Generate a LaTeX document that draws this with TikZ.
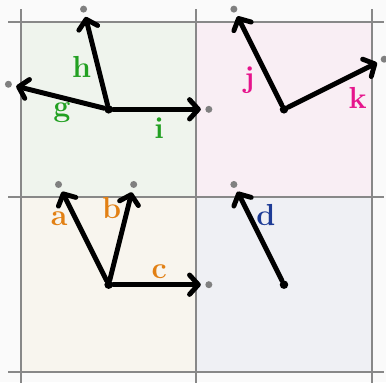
\documentclass[tikz,border=0pt]{standalone}
\usetikzlibrary{arrows.meta}
\definecolor{bgc}{RGB}{250,250,250}
\definecolor{qtl}{RGB}{239,244,237}
\definecolor{qtr}{RGB}{249,238,244}
\definecolor{qbl}{RGB}{248,245,238}
\definecolor{qbr}{RGB}{239,240,244}
\definecolor{gridgray}{RGB}{136,136,136}
\definecolor{dotgray}{RGB}{128,128,128}
\definecolor{lgreen}{RGB}{34,160,34}
\definecolor{lpink}{RGB}{230,20,140}
\definecolor{lorange}{RGB}{226,128,20}
\definecolor{lblue}{RGB}{30,60,150}
\begin{document}
\begin{tikzpicture}[x=1cm,y=1cm,
  gridline/.style={draw=gridgray, line width=1.1pt},
  vec/.style={line width=2.8pt, line cap=round, -{Straight Barb[length=5pt,width=11pt,line cap=round,line join=round]}},
  orig/.style={circle, fill=black, minimum size=0.17cm, inner sep=0pt},
  tipdot/.style={circle, fill=dotgray, minimum size=0.14cm, inner sep=0pt, outer sep=0.09cm},
  lbl/.style={font=\LARGE\bfseries, inner sep=0pt}]
\fill[bgc] (-3.918,-3.693) rectangle (3.786,3.932);
\useasboundingbox (-3.918,-3.693) rectangle (3.786,3.932);
% quadrant fills
\fill[qtl] (-3.5,0) rectangle (0,3.5);
\fill[qtr] (0,0) rectangle (3.5,3.5);
\fill[qbl] (-3.5,-3.5) rectangle (0,0);
\fill[qbr] (0,-3.5) rectangle (3.5,0);
% grid
\foreach \v in {-3.5,0,3.5} {
  \draw[gridline] (\v,3.75) -- (\v,-3.75);
  \draw[gridline] (-3.75,\v) -- (3.75,\v);
}
% origins
\node[orig] (otl) at (-1.75,1.75) {};
\node[orig] (otr) at (1.75,1.75) {};
\node[orig] (obl) at (-1.75,-1.75) {};
\node[orig] (obr) at (1.75,-1.75) {};
% end points
\node[tipdot] (pg) at (-3.75,2.25) {};
\node[tipdot] (ph) at (-2.25,3.75) {};
\node[tipdot] (pi) at (0.25,1.75) {};
\node[tipdot] (pj) at (0.75,3.75) {};
\node[tipdot] (pk) at (3.75,2.75) {};
\node[tipdot] (pa) at (-2.75,0.25) {};
\node[tipdot] (pb) at (-1.25,0.25) {};
\node[tipdot] (pc) at (0.25,-1.75) {};
\node[tipdot] (pd) at (0.75,0.25) {};
% vectors
\draw[vec] (otl) -- (pg);
\draw[vec] (otl) -- (ph);
\draw[vec] (otl) -- (pi);
\draw[vec] (otr) -- (pj);
\draw[vec] (otr) -- (pk);
\draw[vec] (obl) -- (pa);
\draw[vec] (obl) -- (pb);
\draw[vec] (obl) -- (pc);
\draw[vec] (obr) -- (pd);
% labels
\node[lbl, text=lgreen] (lh) at (-2.287,2.601) {h};
\node[lbl, text=lgreen] (lg) at (-2.681,1.677) {g};
\node[lbl, text=lgreen] (li) at (-0.744,1.377) {i};
\node[lbl, text=lpink] (lj) at (1.058,2.335) {j};
\node[lbl, text=lpink] (lk) at (3.222,1.976) {k};
\node[lbl, text=lorange] (la) at (-2.735,-0.425) {a};
\node[lbl, text=lorange] (lb) at (-1.689,-0.226) {b};
\node[lbl, text=lorange] (lc) at (-0.739,-1.491) {c};
\node[lbl, text=lblue] (ld) at (1.391,-0.359) {d};
\end{tikzpicture}
\end{document}
